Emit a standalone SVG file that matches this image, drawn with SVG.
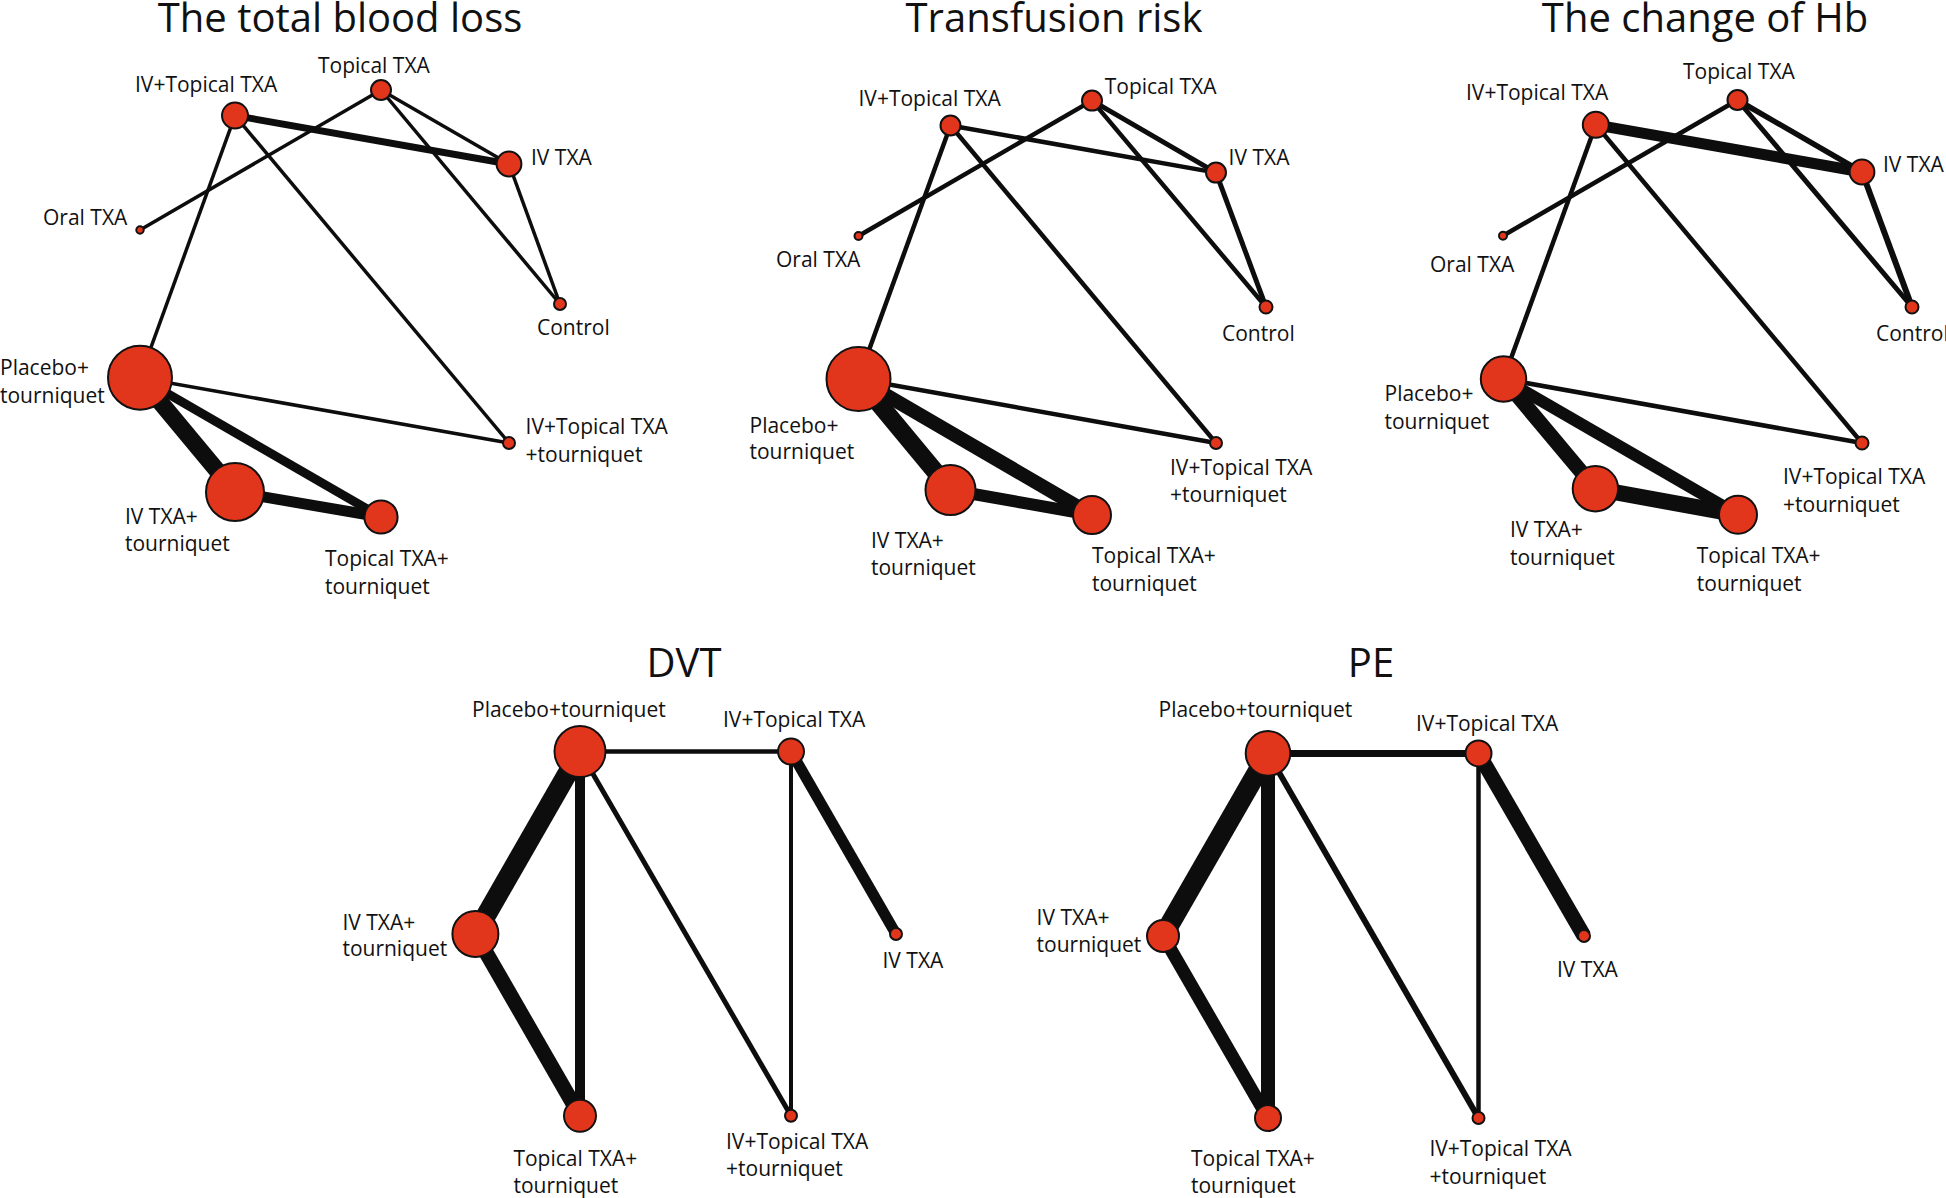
<svg xmlns="http://www.w3.org/2000/svg" width="1946" height="1198" viewBox="0 0 1946 1198">
<style>
.t{font-family:"Open Sans","Noto Sans",sans-serif;font-size:40px;fill:#111;text-anchor:middle}
.l{font-family:"Open Sans","Noto Sans",sans-serif;font-size:21px;fill:#111}
.e{stroke:#0d0d0d;stroke-linecap:butt;fill:none}
.n{fill:#e2361c;stroke:#111;stroke-width:2}
</style>
<rect width="1946" height="1198" fill="#fff"/>
<text class="t" x="340" y="32">The total blood loss</text>
<text class="t" x="1054" y="32">Transfusion risk</text>
<text class="t" x="1705" y="32">The change of Hb</text>
<text class="t" x="684" y="677">DVT</text>
<text class="t" x="1371" y="677">PE</text>
<g id="connectors">
<!-- panel 1 -->
<line class="e" x1="235" y1="115.6" x2="509" y2="164" stroke-width="7"/>
<line class="e" x1="381" y1="90" x2="140" y2="230" stroke-width="3.5"/>
<line class="e" x1="381" y1="90" x2="509" y2="164" stroke-width="3.5"/>
<line class="e" x1="381" y1="90" x2="560" y2="304" stroke-width="3.5"/>
<line class="e" x1="509" y1="164" x2="560" y2="304" stroke-width="3.5"/>
<line class="e" x1="235" y1="115.6" x2="140" y2="377.7" stroke-width="3.5"/>
<line class="e" x1="235" y1="115.6" x2="509" y2="443" stroke-width="3.5"/>
<line class="e" x1="140" y1="377.7" x2="509" y2="443" stroke-width="3.5"/>
<line class="e" x1="140" y1="377.7" x2="235" y2="492" stroke-width="17"/>
<line class="e" x1="140" y1="377.7" x2="381" y2="517" stroke-width="9"/>
<line class="e" x1="235" y1="492" x2="381" y2="517" stroke-width="11"/>
<!-- panel 2 -->
<line class="e" x1="950.5" y1="125.5" x2="1216" y2="172.6" stroke-width="4.5"/>
<line class="e" x1="1092" y1="100.6" x2="858.5" y2="236" stroke-width="4.5"/>
<line class="e" x1="1092" y1="100.6" x2="1216" y2="172.6" stroke-width="5"/>
<line class="e" x1="1092" y1="100.6" x2="1266" y2="307" stroke-width="4.5"/>
<line class="e" x1="1216" y1="172.6" x2="1266" y2="307" stroke-width="5"/>
<line class="e" x1="950.5" y1="125.5" x2="858.5" y2="379" stroke-width="4.5"/>
<line class="e" x1="950.5" y1="125.5" x2="1216" y2="443" stroke-width="4.5"/>
<line class="e" x1="858.5" y1="379" x2="1216" y2="443" stroke-width="4.5"/>
<line class="e" x1="858.5" y1="379" x2="950.5" y2="490" stroke-width="18"/>
<line class="e" x1="858.5" y1="379" x2="1092" y2="515" stroke-width="14"/>
<line class="e" x1="950.5" y1="490" x2="1092" y2="515" stroke-width="12"/>
<!-- panel 3 -->
<line class="e" x1="1595.8" y1="124.8" x2="1862" y2="172" stroke-width="11"/>
<line class="e" x1="1737.5" y1="100" x2="1503" y2="235.7" stroke-width="4.5"/>
<line class="e" x1="1737.5" y1="100" x2="1862" y2="172" stroke-width="5.5"/>
<line class="e" x1="1737.5" y1="100" x2="1912" y2="307" stroke-width="5"/>
<line class="e" x1="1862" y1="172" x2="1912" y2="307" stroke-width="6"/>
<line class="e" x1="1595.8" y1="124.8" x2="1503.5" y2="379" stroke-width="4.5"/>
<line class="e" x1="1595.8" y1="124.8" x2="1862" y2="443" stroke-width="4.5"/>
<line class="e" x1="1503.5" y1="379" x2="1862" y2="443" stroke-width="4.5"/>
<line class="e" x1="1503.5" y1="379" x2="1595.4" y2="488.7" stroke-width="15"/>
<line class="e" x1="1503.5" y1="379" x2="1738" y2="514.7" stroke-width="12"/>
<line class="e" x1="1595.4" y1="488.7" x2="1738" y2="514.7" stroke-width="16"/>
<!-- DVT -->
<line class="e" x1="580" y1="751.6" x2="791" y2="751.6" stroke-width="4.5"/>
<line class="e" x1="580" y1="751.6" x2="475.4" y2="934" stroke-width="20"/>
<line class="e" x1="580" y1="751.6" x2="580" y2="1115.8" stroke-width="10"/>
<line class="e" x1="580" y1="751.6" x2="791" y2="1115.8" stroke-width="5"/>
<line class="e" x1="791" y1="751.6" x2="896" y2="934" stroke-width="11"/>
<line class="e" x1="791" y1="751.6" x2="791" y2="1115.8" stroke-width="4"/>
<line class="e" x1="475.4" y1="934" x2="580" y2="1115.8" stroke-width="15"/>
<!-- PE -->
<line class="e" x1="1268" y1="753.4" x2="1478.5" y2="753.4" stroke-width="7"/>
<line class="e" x1="1268" y1="753.4" x2="1163" y2="936" stroke-width="20"/>
<line class="e" x1="1268" y1="753.4" x2="1268" y2="1118" stroke-width="14"/>
<line class="e" x1="1268" y1="753.4" x2="1478.5" y2="1118" stroke-width="6"/>
<line class="e" x1="1478.5" y1="753.4" x2="1584" y2="936" stroke-width="15"/>
<line class="e" x1="1478.5" y1="753.4" x2="1478.5" y2="1118" stroke-width="4.5"/>
<line class="e" x1="1163" y1="936" x2="1268" y2="1118" stroke-width="13"/>
</g>
<!-- panel 1 nodes -->
<g id="p1-ivtopical"><circle class="n" cx="235" cy="115.6" r="13"/><text class="l" x="135" y="92">IV+Topical TXA</text></g>
<g id="p1-topical"><circle class="n" cx="381" cy="90" r="10"/><text class="l" x="318" y="72.7">Topical TXA</text></g>
<g id="p1-ivtxa"><circle class="n" cx="509" cy="164" r="12.4"/><text class="l" x="531" y="164.6">IV TXA</text></g>
<g id="p1-oral"><circle class="n" cx="140" cy="230" r="3.7"/><text class="l" x="43" y="224.6">Oral TXA</text></g>
<g id="p1-control"><circle class="n" cx="560" cy="304" r="6"/><text class="l" x="537" y="335">Control</text></g>
<g id="p1-placebo"><circle class="n" cx="140" cy="377.7" r="32"/><text class="l" x="0" y="375">Placebo+</text><text class="l" x="0" y="402.6">tourniquet</text></g>
<g id="p1-ivtopicaltq"><circle class="n" cx="509" cy="443" r="6"/><text class="l" x="525.6" y="434">IV+Topical TXA</text><text class="l" x="525.6" y="462">+tourniquet</text></g>
<g id="p1-ivtxatq"><circle class="n" cx="235" cy="492" r="29"/><text class="l" x="125" y="523.5">IV TXA+</text><text class="l" x="125" y="551">tourniquet</text></g>
<g id="p1-topicaltq"><circle class="n" cx="381" cy="517" r="16.6"/><text class="l" x="325" y="566">Topical TXA+</text><text class="l" x="325" y="594">tourniquet</text></g>
<!-- panel 2 nodes -->
<g id="p2-ivtopical"><circle class="n" cx="950.5" cy="125.5" r="10"/><text class="l" x="858.5" y="106.4">IV+Topical TXA</text></g>
<g id="p2-topical"><circle class="n" cx="1092" cy="100.6" r="10"/><text class="l" x="1104.7" y="93.8">Topical TXA</text></g>
<g id="p2-ivtxa"><circle class="n" cx="1216" cy="172.6" r="10"/><text class="l" x="1228.6" y="165.3">IV TXA</text></g>
<g id="p2-oral"><circle class="n" cx="858.5" cy="236" r="4"/><text class="l" x="776" y="266.7">Oral TXA</text></g>
<g id="p2-control"><circle class="n" cx="1266" cy="307" r="6.5"/><text class="l" x="1222" y="340.6">Control</text></g>
<g id="p2-placebo"><circle class="n" cx="858.5" cy="379" r="32"/><text class="l" x="749.5" y="432.5">Placebo+</text><text class="l" x="749.5" y="459">tourniquet</text></g>
<g id="p2-ivtopicaltq"><circle class="n" cx="1216" cy="443" r="6"/><text class="l" x="1170" y="474.5">IV+Topical TXA</text><text class="l" x="1170" y="502">+tourniquet</text></g>
<g id="p2-ivtxatq"><circle class="n" cx="950.5" cy="490" r="25"/><text class="l" x="871" y="548">IV TXA+</text><text class="l" x="871" y="575">tourniquet</text></g>
<g id="p2-topicaltq"><circle class="n" cx="1092" cy="515" r="19"/><text class="l" x="1092" y="562.6">Topical TXA+</text><text class="l" x="1092" y="591">tourniquet</text></g>
<!-- panel 3 nodes -->
<g id="p3-ivtopical"><circle class="n" cx="1595.8" cy="124.8" r="13"/><text class="l" x="1466" y="99.5">IV+Topical TXA</text></g>
<g id="p3-topical"><circle class="n" cx="1737.5" cy="100" r="10"/><text class="l" x="1683" y="78.5">Topical TXA</text></g>
<g id="p3-ivtxa"><circle class="n" cx="1862" cy="172" r="12.4"/><text class="l" x="1883" y="172">IV TXA</text></g>
<g id="p3-oral"><circle class="n" cx="1503" cy="235.7" r="4"/><text class="l" x="1430" y="271.7">Oral TXA</text></g>
<g id="p3-control"><circle class="n" cx="1912" cy="307" r="6.5"/><text class="l" x="1876" y="340.6">Control</text></g>
<g id="p3-placebo"><circle class="n" cx="1503.5" cy="379" r="22.7"/><text class="l" x="1384.5" y="401">Placebo+</text><text class="l" x="1384.5" y="428.6">tourniquet</text></g>
<g id="p3-ivtopicaltq"><circle class="n" cx="1862" cy="443" r="6.5"/><text class="l" x="1783" y="484">IV+Topical TXA</text><text class="l" x="1783" y="511.7">+tourniquet</text></g>
<g id="p3-ivtxatq"><circle class="n" cx="1595.4" cy="488.7" r="22.7"/><text class="l" x="1510" y="536.5">IV TXA+</text><text class="l" x="1510" y="564.5">tourniquet</text></g>
<g id="p3-topicaltq"><circle class="n" cx="1738" cy="514.7" r="19"/><text class="l" x="1696.8" y="562.6">Topical TXA+</text><text class="l" x="1696.8" y="591">tourniquet</text></g>
<!-- DVT nodes -->
<g id="dvt-placebo"><circle class="n" cx="580" cy="751.6" r="25.5"/><text class="l" x="472" y="716.6">Placebo+tourniquet</text></g>
<g id="dvt-ivtopical"><circle class="n" cx="791" cy="751.6" r="13"/><text class="l" x="723" y="727">IV+Topical TXA</text></g>
<g id="dvt-ivtxatq"><circle class="n" cx="475.4" cy="934" r="23"/><text class="l" x="342.4" y="929.6">IV TXA+</text><text class="l" x="342.4" y="956">tourniquet</text></g>
<g id="dvt-ivtxa"><circle class="n" cx="896" cy="934" r="6"/><text class="l" x="882.5" y="967.6">IV TXA</text></g>
<g id="dvt-topicaltq"><circle class="n" cx="580" cy="1115.8" r="16"/><text class="l" x="513.4" y="1165.5">Topical TXA+</text><text class="l" x="513.4" y="1192.5">tourniquet</text></g>
<g id="dvt-ivtopicaltq"><circle class="n" cx="791" cy="1115.8" r="6"/><text class="l" x="726" y="1149">IV+Topical TXA</text><text class="l" x="726" y="1176">+tourniquet</text></g>
<!-- PE nodes -->
<g id="pe-placebo"><circle class="n" cx="1268" cy="753.4" r="22.3"/><text class="l" x="1158.5" y="716.6">Placebo+tourniquet</text></g>
<g id="pe-ivtopical"><circle class="n" cx="1478.5" cy="753.4" r="13"/><text class="l" x="1416" y="730.6">IV+Topical TXA</text></g>
<g id="pe-ivtxatq"><circle class="n" cx="1163" cy="936" r="16"/><text class="l" x="1036.6" y="925">IV TXA+</text><text class="l" x="1036.6" y="951.7">tourniquet</text></g>
<g id="pe-ivtxa"><circle class="n" cx="1584" cy="936" r="6"/><text class="l" x="1557" y="976.8">IV TXA</text></g>
<g id="pe-topicaltq"><circle class="n" cx="1268" cy="1118" r="13"/><text class="l" x="1191" y="1165.5">Topical TXA+</text><text class="l" x="1191" y="1192.5">tourniquet</text></g>
<g id="pe-ivtopicaltq"><circle class="n" cx="1478.5" cy="1118" r="6"/><text class="l" x="1429.4" y="1156">IV+Topical TXA</text><text class="l" x="1429.4" y="1184">+tourniquet</text></g>
</svg>
